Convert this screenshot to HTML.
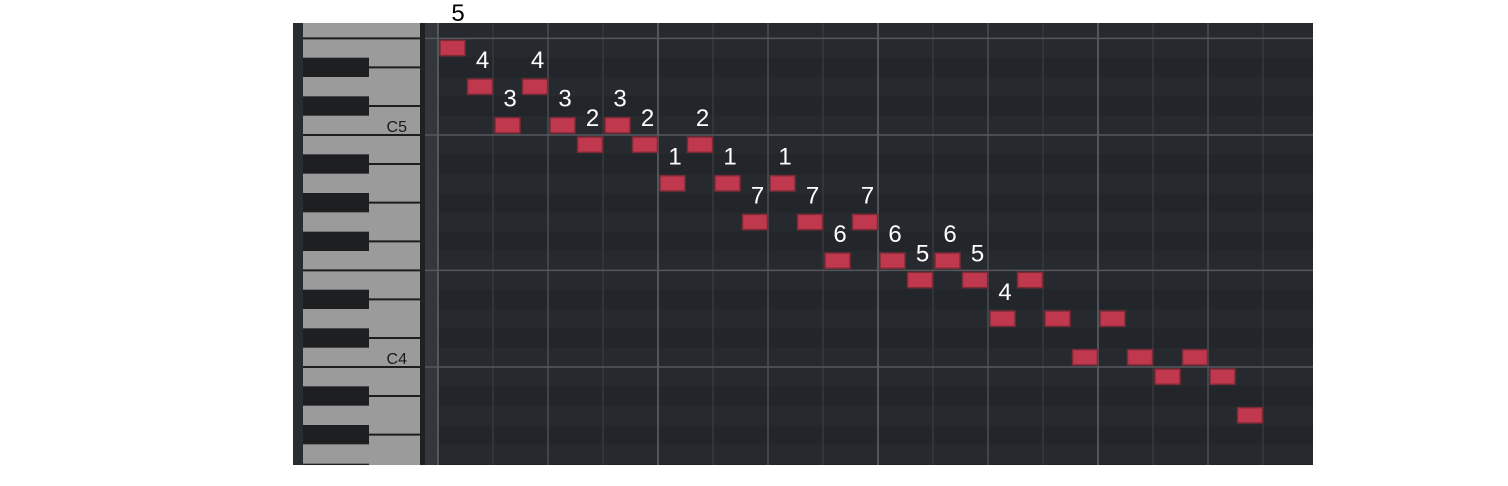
<!DOCTYPE html>
<html><head><meta charset="utf-8">
<style>
html,body{margin:0;padding:0;background:#fff;width:1508px;height:486px;overflow:hidden;}
svg{display:block;}
</style></head>
<body>
<svg id="roll" width="1508" height="486" xmlns="http://www.w3.org/2000/svg" font-family="'Liberation Sans', sans-serif"></svg>
<script>
// Melody data: pitches (MIDI) in sequence, and scale-degree labels
const pitches = [76,74,72,74,72,71,72,71,69,71,69,67,69,67,65,67,65,64,65,64,62,64,62,60,62,60,59,60,59,57];
const labels = ["5","4","3","4","3","2","3","2","1","2","1","7","1","7","6","7","6","5","6","5","4"];
const octaveLabels = ["C5","C4"];

const NS="http://www.w3.org/2000/svg";
const svgRoot=document.getElementById('roll');
function el(tag,attrs,parent){const e=document.createElementNS(NS,tag);for(const k in attrs)e.setAttribute(k,attrs[k]);(parent||svgRoot).appendChild(e);return e;}

const panelTop=23,panelBottom=465,panelLeft=293,panelRight=1313;
const rowH=232/12;
const c5Bottom=135;
const gridX0=438, stepW=27.5, beatW=55;
function yTop(p){return c5Bottom-(p-72+1)*rowH;}
function xAt(i){return gridX0+stepW*i;}
const blackSet=[1,3,6,8,10];

const defs=el('defs',{});
const cp=el('clipPath',{id:'clip'},defs);
el('rect',{x:panelLeft,y:panelTop,width:panelRight-panelLeft,height:panelBottom-panelTop},cp);
const g=el('g',{'clip-path':'url(#clip)'});



el('rect',{x:panelLeft,y:panelTop,width:panelRight-panelLeft,height:panelBottom-panelTop,fill:'#25282c'},g);
el('rect',{x:panelLeft,y:panelTop,width:10,height:panelBottom-panelTop,fill:'#2a2d30'},g);

const pMin=54,pMax=78;
for(let p=pMin;p<=pMax;p++){
  const y=yTop(p);
  const r=el('rect',{x:gridX0,y:y,width:panelRight-gridX0,height:rowH,fill:blackSet.includes(p%12)?'#222529':'#26292d'},g);
  
  
}
el('rect',{x:420,y:panelTop,width:5,height:panelBottom-panelTop,fill:'#1e2023'},g);
el('rect',{x:425,y:panelTop,width:13,height:panelBottom-panelTop,fill:'#33363a'},g);
for(let k=0;gridX0+k*beatW<panelRight;k++){
  const x=gridX0+k*beatW;
  const col=k%4===0?'#60646a':(k%2===0?'#4a4e53':'#35383c');
  const l=el('line',{x1:x,y1:panelTop,x2:x,y2:panelBottom,stroke:col,'stroke-width':1.5},g);
  
  
}
for(let p=pMin;p<=pMax;p++){
  if(p%12===0||p%12===5){
    const y=yTop(p)+rowH;
    el('line',{x1:425,y1:y,x2:panelRight,y2:y,stroke:'#55595e','stroke-width':1.5},g);
  }
}
el('rect',{x:303,y:panelTop,width:117,height:panelBottom-panelTop,fill:'#9b9b9b'},g);
for(let p=pMin;p<=pMax;p++){
  const m=p%12;
  if(m===0||m===5){
    const y=yTop(p)+rowH;
    el('line',{x1:303,y1:y,x2:420,y2:y,stroke:'#1d1d1f','stroke-width':2},g);
  }
}
for(let p=pMin;p<=pMax;p++){
  const m=p%12;
  if(blackSet.includes(m)){
    const y=yTop(p);
    el('line',{x1:303,y1:y+rowH/2,x2:420,y2:y+rowH/2,stroke:'#1d1d1f','stroke-width':2},g);
    const k=el('rect',{x:303,y:y,width:66,height:rowH,fill:'#1e1f21'},g);
    
    
  }
}
octaveLabels.forEach((t,i)=>{
  const p=72-12*i;
  const tx=el('text',{x:407,y:yTop(p)+rowH-3,'text-anchor':'end','font-size':16,fill:'#1a1a1a'},g);
  tx.textContent=t;
  
  
});
pitches.forEach((p,i)=>{
  const n=el('rect',{x:xAt(i)+2,y:yTop(p)+2,width:stepW-2.5,height:rowH-4,fill:'#c0384d',stroke:'#7c2a36','stroke-width':1.5},g);
  
  
});
labels.forEach((t,i)=>{
  const p=pitches[i];
  let y=yTop(p)-9;
  let fill='#ffffff';
  if(i===0){y=21;fill='#000000';}
  const tx=el('text',{x:xAt(i)+(i===0?20:17),y:y,'text-anchor':'middle','font-size':24,fill:fill});
  tx.textContent=t;
  
  
});
</script>
</body></html>
